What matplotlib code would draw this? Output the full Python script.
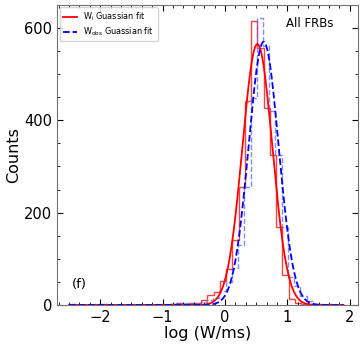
import numpy as np
import matplotlib
matplotlib.use("Agg")
import matplotlib.pyplot as plt
from matplotlib.ticker import AutoMinorLocator

# histogram of log(W_i): bins of 0.1 starting at red_start
red_start = -2.48
red_counts = [2, 1, 0, 1, 0, 2, 1, 0, 1, 0, 1, 0, 1, 0, 1, 1, 3, 4, 3, 4,
              5, 10, 22, 29, 52, 77, 141, 255, 441, 615, 557, 427, 325, 170,
              65, 12, 5, 3, 1, 1]

# histogram of log(W_obs)
blue_start = -2.49
blue_counts = [1, 0, 1, 1, 2, 1, 1, 0, 1, 0, 1, 0, 1, 0, 1, 1, 2, 4, 5, 4,
               5, 6, 10, 15, 30, 50, 80, 130, 255, 448, 622, 560, 420, 325,
               168, 60, 42, 20, 8, 3, 2, 2, 1, 1]

bin_width = 0.1

# gaussian fit parameters (amplitude, mean, sigma)
red_fit = [565, 0.52, 0.24]
blue_fit = [570, 0.62, 0.24]


def gauss(x, a, mu, sig):
    return a * np.exp(-(x - mu) ** 2 / (2 * sig ** 2))


def make_plot():
    fig = plt.figure(figsize=(3.64, 3.47), dpi=100)
    ax = fig.add_axes([0.157, 0.121, 0.826, 0.865])

    red_edges = red_start + bin_width * np.arange(len(red_counts) + 1)
    blue_edges = blue_start + bin_width * np.arange(len(blue_counts) + 1)
    ax.stairs(red_counts, red_edges, color="red", alpha=0.75, linewidth=1.0)
    ax.stairs(blue_counts, blue_edges, color="#5566ff", alpha=0.75,
              linewidth=1.0, linestyle="--")

    x = np.linspace(-2.5, 1.9, 600)
    ax.plot(x, gauss(x, *red_fit), color="red", linewidth=1.3,
            label=r"W$_\mathrm{i}$ Guassian fit")
    ax.plot(x, gauss(x, *blue_fit), color="blue", linewidth=1.3, linestyle="--",
            label=r"W$_\mathrm{obs}$ Guassian fit")

    ax.set_xlim(-2.69, 2.13)
    ax.set_ylim(0, 650)
    ax.set_xticks([-2, -1, 0, 1, 2])
    ax.set_yticks([0, 200, 400, 600])
    ax.xaxis.set_minor_locator(AutoMinorLocator(6))
    ax.yaxis.set_minor_locator(AutoMinorLocator(4))
    ax.tick_params(which="both", direction="in", top=True, right=True,
                   labelsize=10.5)
    ax.tick_params(which="major", length=4.5)
    ax.tick_params(which="minor", length=2.2)
    ax.set_xticklabels(["\u22122", "\u22121", "0", "1", "2"])
    for sp in ax.spines.values():
        sp.set_color("0.45")

    ax.set_xlabel("log (W/ms)", fontsize=11.5, labelpad=1)
    ax.set_ylabel("Counts", fontsize=11.5, labelpad=2)

    ax.text(0.84, 0.937, "All FRBs", transform=ax.transAxes, fontsize=8.5,
            ha="center", va="center")
    ax.text(0.05, 0.067, "(f)", transform=ax.transAxes, fontsize=9.5,
            ha="left", va="center")

    ax.legend(loc="upper left", fontsize=5.9, handlelength=1.7,
              labelspacing=0.3, borderaxespad=0.3, framealpha=0.8)

    fig.savefig("out.png", dpi=100)


def main():
    make_plot()


if __name__ == "__main__":
    main()
